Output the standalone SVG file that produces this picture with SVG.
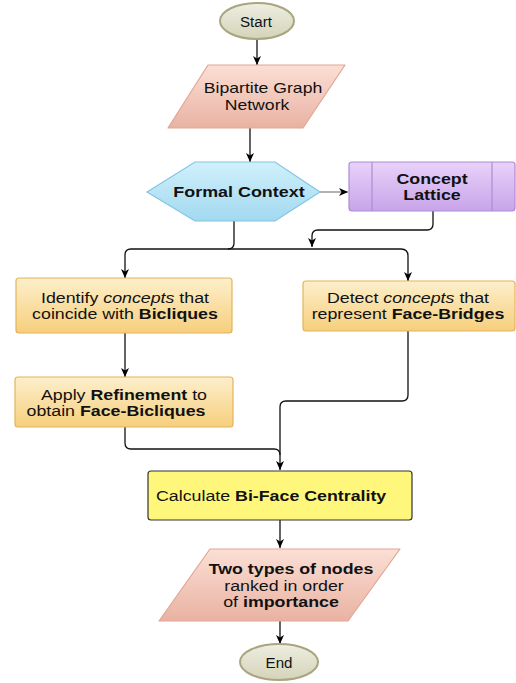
<svg xmlns="http://www.w3.org/2000/svg" width="516" height="683" viewBox="0 0 516 683">
<defs>
<linearGradient id="gPink" x1="0" y1="0" x2="0" y2="1"><stop offset="0" stop-color="#fbdfd5"/><stop offset="1" stop-color="#e9b2a2"/></linearGradient>
<linearGradient id="gBlue" x1="0" y1="0" x2="0" y2="1"><stop offset="0" stop-color="#d0f0fb"/><stop offset="1" stop-color="#a2d9f0"/></linearGradient>
<linearGradient id="gPurple" x1="0" y1="0" x2="0" y2="1"><stop offset="0" stop-color="#e8d2f9"/><stop offset="1" stop-color="#c8a4ea"/></linearGradient>
<linearGradient id="gOrange" x1="0" y1="0" x2="0" y2="1"><stop offset="0" stop-color="#fdefcb"/><stop offset="1" stop-color="#f6cf7d"/></linearGradient>
<linearGradient id="gOlive" x1="0" y1="0" x2="0" y2="1"><stop offset="0" stop-color="#eeeee2"/><stop offset="1" stop-color="#d4d3b9"/></linearGradient>
<marker id="arr" markerUnits="userSpaceOnUse" markerWidth="10" markerHeight="10" viewBox="0 0 10 10" refX="9" refY="5" orient="auto">
<path d="M0,1 L9,5 L0,9 L2.5,5 Z" fill="#000"/>
</marker>
</defs>
<style>
text{font-family:"Liberation Sans",Arial,sans-serif;font-size:14px;fill:#111}
.b{font-weight:bold}
.i{font-style:italic}
.c{text-anchor:middle}
.ln{fill:none;stroke:#111;stroke-width:1.3}
.pink{fill:url(#gPink);stroke:#e3a595;stroke-width:1.2;stroke-linejoin:round}
.orange{fill:url(#gOrange);stroke:#e4b45a;stroke-width:1.2}
.olive{fill:url(#gOlive);stroke:#a9a57f;stroke-width:2}
</style>

<g id="connectors">
<path class="ln" d="M257,39 V65" marker-end="url(#arr)"/>
<path class="ln" d="M250,128 V162" marker-end="url(#arr)"/>
<path class="ln" d="M320,192 H348" style="stroke:#888" marker-end="url(#arr)"/>
<path class="ln" d="M433,211 V224 Q433,230 427,230 H318 Q312,230 312,236 V247" marker-end="url(#arr)"/>
<path class="ln" d="M234,221 V243 Q234,249 228,249 H131 Q125,249 125,255 V278" marker-end="url(#arr)"/>
<path class="ln" d="M228,249 H401 Q408,249 408,256 V281" marker-end="url(#arr)"/>
<path class="ln" d="M125,333 V377" marker-end="url(#arr)"/>
<path class="ln" d="M408,331 V395 Q408,401 402,401 H286 Q280,401 280,407 V470" marker-end="url(#arr)"/>
<path class="ln" d="M125,427 V443 Q125,449 131,449 H274 Q280,449 280,455"/>
<path class="ln" d="M280,520 V548" marker-end="url(#arr)"/>
<path class="ln" d="M280,621 V644" marker-end="url(#arr)"/>
</g>

<g id="start">
<ellipse class="olive" cx="257" cy="21" rx="37" ry="18"/>
<text class="c" transform="translate(256,27) scale(1.08,1)">Start</text>
</g>

<g id="bipartite">
<path class="pink" d="M208,65 H345 L303,128 H168 Z"/>
<text class="c" transform="translate(263,93) scale(1.26,1)">Bipartite Graph</text>
<text class="c" transform="translate(257,110) scale(1.26,1)">Network</text>
</g>

<g id="formal">
<path d="M147,192 L195,162 H275 L320,192 L275,221 H195 Z" fill="url(#gBlue)" stroke="#84c4e2" stroke-width="1.2"/>
<text class="c b" transform="translate(239,197) scale(1.28,1)">Formal Context</text>
</g>

<g id="lattice">
<rect x="349" y="162" width="166" height="49" rx="3" fill="url(#gPurple)" stroke="#ae8cd4" stroke-width="1.2"/>
<path d="M372,162 V211 M492,162 V211" stroke="#ae8cd4" stroke-width="1.2"/>
<text class="c b" transform="translate(432,184) scale(1.27,1)">Concept</text>
<text class="c b" transform="translate(432,200) scale(1.27,1)">Lattice</text>
</g>

<g id="identify">
<rect class="orange" x="16" y="278" width="216" height="55" rx="3"/>
<text class="c" transform="translate(125,303) scale(1.27,1)">Identify <tspan class="i">concepts</tspan> that</text>
<text class="c" transform="translate(125,319) scale(1.27,1)">coincide with <tspan class="b">Bicliques</tspan></text>
</g>

<g id="detect">
<rect class="orange" x="303" y="281" width="212" height="50" rx="3"/>
<text class="c" transform="translate(408,303) scale(1.27,1)">Detect <tspan class="i">concepts</tspan> that</text>
<text class="c" transform="translate(408,319) scale(1.27,1)">represent <tspan class="b">Face-Bridges</tspan></text>
</g>

<g id="apply">
<rect class="orange" x="15" y="377" width="218" height="50" rx="3"/>
<text class="c" transform="translate(124,400) scale(1.27,1)">Apply <tspan class="b">Refinement</tspan> to</text>
<text class="c" transform="translate(116,416) scale(1.27,1)">obtain <tspan class="b">Face-Bicliques</tspan></text>
</g>

<g id="calculate">
<rect x="148" y="471" width="264" height="49" rx="3" fill="#fff77c" stroke="#333" stroke-width="1.2"/>
<text transform="translate(156,501) scale(1.27,1)">Calculate <tspan class="b">Bi-Face Centrality</tspan></text>
</g>

<g id="ranked">
<path class="pink" d="M210,549 H400 L348,621 H159 Z"/>
<text class="c b" transform="translate(291,574) scale(1.27,1)">Two types of nodes</text>
<text class="c" transform="translate(284,591) scale(1.27,1)">ranked in order</text>
<text class="c" transform="translate(281,607) scale(1.27,1)">of <tspan class="b">importance</tspan></text>
</g>

<g id="end">
<ellipse class="olive" cx="279" cy="662" rx="39" ry="18"/>
<text class="c" transform="translate(279,668) scale(1.08,1)">End</text>
</g>
</svg>
